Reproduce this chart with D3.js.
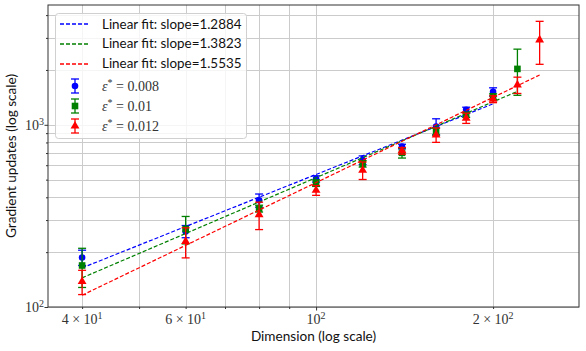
<!DOCTYPE html>
<html>
<head>
<meta charset="utf-8">
<script src="https://cdn.jsdelivr.net/npm/d3@7"></script>
<style>
  body { margin: 0; background: #fff; }
  .sans { font-family: Lato, "DejaVu Sans", sans-serif; }
  .serif { font-family: "Liberation Serif", "DejaVu Serif", serif; }
</style>
</head>
<body>
<svg id="chart" width="586" height="351"></svg>
<script>
// data
const dims = [40, 60, 80, 100, 120, 140, 160, 180, 200, 220, 240];

const meanE008 = [187, 260, 385, 505, 640, 760, 979, 1209, 1516];
const errE008  = [18, 20, 32, 20, 35, 22, 100, 40, 80];

const meanE010 = [169, 268, 347, 479, 611, 702, 919, 1134, 1429, 2027];
const errE010  = [41, 46, 15, 20, 25, 45, 40, 35, 50, 575];

const meanE012 = [138, 229, 321, 437, 563, 720, 881, 1088, 1383, 1656, 2923];
const errE012  = [21, 43, 55, 27, 62, 30, 80, 70, 60, 170, 775];

const epsLabels = ["0.008", "0.01", "0.012"];
const fitSlopes = [1.2884, 1.3823, 1.5535];
const fitLogIntercepts = [0.1507, -0.0545, -0.4241]; // log10 of the constant in y = C * x^slope

const xMinorTicks = [40, 50, 60, 70, 80, 90, 200];
const xMajorTicks = [100];
const xLabelTicks = [
  {v: 40, pre: "4 × 10", exp: "1"},
  {v: 60, pre: "6 × 10", exp: "1"},
  {v: 100, pre: "10", exp: "2"},
  {v: 200, pre: "2 × 10", exp: "2"}
];
const yMinorTicks = [200, 300, 400, 500, 600, 700, 800, 900, 2000, 3000, 4000];
const yMajorTicks = [100, 1000];

const colors = ["#0000ff", "#008000", "#ff0000"];
const markers = ["circle", "square", "triangle"];

const series = [
  {means: meanE008, errs: errE008},
  {means: meanE010, errs: errE010},
  {means: meanE012, errs: errE012}
].map((s, i) => ({
  eps: epsLabels[i], color: colors[i], marker: markers[i],
  slope: fitSlopes[i], logC: fitLogIntercepts[i],
  points: s.means.map((m, j) => ({x: dims[j], y: m, e: s.errs[j]}))
}));

const svg = d3.select("#chart");
const pLeft = 48, pRight = 579, pTop = 5, pBottom = 307;

const x = d3.scaleLog().domain([35, 280]).range([pLeft, pRight]);
const y = d3.scaleLog().domain([100, 4546]).range([pBottom, pTop]);

// grid lines, both major and minor
const grid = svg.append("g");
grid.selectAll(".gx").data(xMinorTicks.concat(xMajorTicks))
  .join("line")
  .attr("x1", d => Math.round(x(d)) + 0.5).attr("x2", d => Math.round(x(d)) + 0.5)
  .attr("y1", pTop).attr("y2", pBottom)
  .attr("stroke", "#cbcbcb").attr("stroke-width", 1);
grid.selectAll(".gy").data(yMinorTicks.concat(yMajorTicks))
  .join("line")
  .attr("x1", pLeft).attr("x2", pRight)
  .attr("y1", d => Math.round(y(d)) + 0.5).attr("y2", d => Math.round(y(d)) + 0.5)
  .attr("stroke", "#cbcbcb").attr("stroke-width", 1);

// axes (ticks only, labels drawn below so superscripts work)
svg.append("g").attr("transform", `translate(0,${pBottom})`)
  .call(d3.axisBottom(x).tickValues(xMajorTicks).tickSize(3.5).tickFormat(""))
  .call(g => g.select(".domain").remove());
svg.append("g").attr("transform", `translate(0,${pBottom})`)
  .call(d3.axisBottom(x).tickValues(xMinorTicks).tickSize(2).tickFormat(""))
  .call(g => g.select(".domain").remove());
svg.append("g").attr("transform", `translate(${pLeft},0)`)
  .call(d3.axisLeft(y).tickValues(yMajorTicks).tickSize(3.5).tickFormat(""))
  .call(g => g.select(".domain").remove());
svg.append("g").attr("transform", `translate(${pLeft},0)`)
  .call(d3.axisLeft(y).tickValues(yMinorTicks).tickSize(2).tickFormat(""))
  .call(g => g.select(".domain").remove());
svg.selectAll(".tick line").attr("stroke", "#333");

// x tick labels
const xl = svg.append("g").selectAll("text").data(xLabelTicks).join("text")
  .attr("class", "serif").attr("x", d => x(d.v)).attr("y", 324)
  .attr("text-anchor", "middle").attr("font-size", 14).attr("fill", "#333");
xl.append("tspan").text(d => d.pre);
xl.append("tspan").attr("dy", -5).attr("font-size", 10).text(d => d.exp);

// y tick labels
const yl = svg.append("g").selectAll("text").data(yMajorTicks).join("text")
  .attr("class", "serif").attr("x", 44).attr("y", d => y(d) + 5)
  .attr("text-anchor", "end").attr("font-size", 14).attr("fill", "#333");
yl.append("tspan").text("10");
yl.append("tspan").attr("dy", -5).attr("font-size", 10).text(d => Math.round(Math.log10(d)));

// axis titles
svg.append("text").attr("class", "sans")
  .attr("x", (pLeft + pRight) / 2).attr("y", 341)
  .attr("text-anchor", "middle").attr("font-size", 13.6).attr("fill", "#111")
  .text("Dimension (log scale)");
svg.append("text").attr("class", "sans")
  .attr("transform", `translate(16,${(pTop + pBottom) / 2}) rotate(-90)`)
  .attr("text-anchor", "middle").attr("font-size", 13.6).attr("fill", "#111")
  .text("Gradient updates (log scale)");

function drawMarker(g, type, cx, cy, color) {
  if (type === "circle") {
    g.append("circle").attr("cx", cx).attr("cy", cy).attr("r", 3.3).attr("fill", color);
  } else if (type === "square") {
    g.append("rect").attr("x", cx - 3.3).attr("y", cy - 3.3)
      .attr("width", 6.6).attr("height", 6.6).attr("fill", color);
  } else {
    g.append("path").attr("transform", `translate(${cx},${cy})`)
      .attr("d", d3.symbol(d3.symbolTriangle, 34)()).attr("fill", color);
  }
}

const plot = svg.append("g");
series.forEach(s => {
  // error bars
  const g = plot.append("g");
  s.points.forEach(p => {
    const px = x(p.x);
    const y0 = y(p.y - p.e), y1 = y(p.y + p.e);
    g.append("line").attr("x1", px).attr("x2", px).attr("y1", y0).attr("y2", y1)
      .attr("stroke", s.color).attr("stroke-width", 1.3);
    [y0, y1].forEach(cy => g.append("line")
      .attr("x1", px - 4).attr("x2", px + 4).attr("y1", cy).attr("y2", cy)
      .attr("stroke", s.color).attr("stroke-width", 1.3));
    drawMarker(g, s.marker, px, y(p.y), s.color);
  });
  // fit line
  const xs = s.points.map(p => p.x);
  const fitEnds = [d3.min(xs), d3.max(xs)].map(v => [v, Math.pow(10, s.logC + s.slope * Math.log10(v))]);
  plot.append("path")
    .attr("d", d3.line().x(d => x(d[0])).y(d => y(d[1]))(fitEnds))
    .attr("fill", "none").attr("stroke", s.color).attr("stroke-width", 1.2)
    .attr("stroke-dasharray", "4,2");
});

// frame
svg.append("rect").attr("x", pLeft).attr("y", pTop)
  .attr("width", pRight - pLeft).attr("height", pBottom - pTop)
  .attr("fill", "none").attr("stroke", "#333").attr("stroke-width", 1);

// legend
const lg = svg.append("g");
lg.append("rect").attr("x", 55.5).attr("y", 13.5).attr("width", 191).attr("height", 125)
  .attr("rx", 3).attr("fill", "#fff").attr("fill-opacity", 0.8)
  .attr("stroke", "#d0d0d0");
const lineRows = [24, 43.5, 63.5];
const errRows = [86, 106, 126];
series.forEach((s, i) => {
  const ly = Math.round(lineRows[i]);
  lg.append("path").attr("d", `M60,${ly}H90`)
    .attr("stroke", s.color).attr("stroke-width", 1.4).attr("stroke-dasharray", "4,2");
  lg.append("text").attr("class", "sans").attr("x", 102).attr("y", lineRows[i] + 4.5)
    .attr("font-size", 13.4).attr("fill", "#111")
    .text(`Linear fit: slope=${s.slope.toFixed(4)}`);
});
series.forEach((s, i) => {
  const cy = errRows[i];
  lg.append("line").attr("x1", 75).attr("x2", 75).attr("y1", cy - 7).attr("y2", cy + 7)
    .attr("stroke", s.color).attr("stroke-width", 1.3);
  [cy - 7, cy + 7].forEach(v => lg.append("line").attr("x1", 71).attr("x2", 79)
    .attr("y1", v).attr("y2", v).attr("stroke", s.color).attr("stroke-width", 1.3));
  drawMarker(lg, s.marker, 75, cy, s.color);
  const t = lg.append("text").attr("class", "serif").attr("x", 102).attr("y", cy + 5)
    .attr("font-size", 14).attr("fill", "#333");
  t.append("tspan").attr("font-style", "italic").text("ε");
  t.append("tspan").attr("dy", -5).attr("font-size", 10).text("*");
  t.append("tspan").attr("dy", 5).text(` = ${s.eps}`);
});
</script>
</body>
</html>
